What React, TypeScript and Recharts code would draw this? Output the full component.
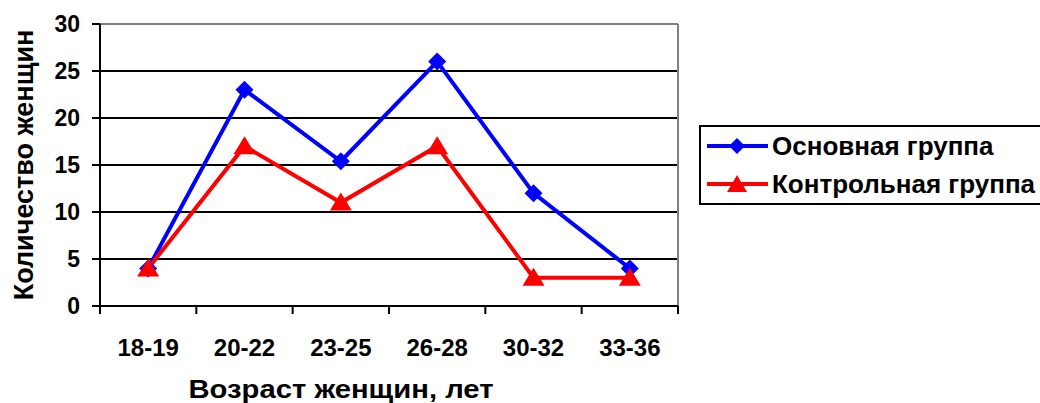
import { LineChart, Line, XAxis, YAxis, CartesianGrid, ReferenceLine, Legend } from 'recharts'

const ageGroups = ['18-19', '20-22', '23-25', '26-28', '30-32', '33-36']
const mainGroup = [4, 23, 15.4, 26, 12, 4]
const controlGroup = [4, 17, 11, 17, 3, 3]
const yTicks = [0, 5, 10, 15, 20, 25, 30]
const boundaryTicks = [0, 1, 2, 3, 4, 5, 6]

// slot = middle of each age band on the 0..6 boundary axis
const rows = ageGroups.map((g, i) => ({ age: g, slot: i + 0.5, main: mainGroup[i], control: controlGroup[i] }))

const FONT = '"Liberation Sans", Arial, sans-serif'
const BLUE = '#0000ff'
const RED = '#ff0000'

const Diamond = (p: any) => {
  const { cx, cy } = p
  if (cx == null || cy == null) return <g />
  const r = 9
  return <polygon points={`${cx},${cy - r} ${cx + r},${cy} ${cx},${cy + r} ${cx - r},${cy}`} fill={BLUE} />
}

const Triangle = (p: any) => {
  const { cx, cy } = p
  if (cx == null || cy == null) return <g />
  return <polygon points={`${cx},${cy - 10} ${cx + 11},${cy + 8} ${cx - 11},${cy + 8}`} fill={RED} />
}

const LegendBox = () => (
  <div style={{ boxSizing: 'border-box', height: 80, border: '2px solid #000', background: '#fff', padding: '0 0 0 6px', fontFamily: FONT, fontWeight: 'bold', fontSize: 26 }}>
    {[{ name: 'Основная группа', color: BLUE, d: true }, { name: 'Контрольная группа', color: RED, d: false }].map((it) => (
      <div key={it.name} style={{ display: 'flex', alignItems: 'center', height: 38, whiteSpace: 'nowrap' }}>
        <svg width={62} height={24} style={{ marginRight: 3, flex: 'none' }}>
          <line x1={0} y1={12} x2={61} y2={12} stroke={it.color} strokeWidth={4} />
          {it.d
            ? <polygon points="30,4 38,12 30,20 22,12" fill={it.color} />
            : <polygon points="30,3 40,20 20,20" fill={it.color} />}
        </svg>
        <span>{it.name}</span>
      </div>
    ))}
  </div>
)

export default function App() {
  return (
    <div style={{ position: 'absolute', left: 0, top: 0, background: '#fff' }}>
      <LineChart width={1040} height={403} data={rows} margin={{ top: 24, right: 362, bottom: 0, left: 0 }}>
        <CartesianGrid vertical={false} horizontal stroke="#000" strokeWidth={2} />
        {/* ids sort alphabetically: "a" sits right under the plot, "b" below it */}
        <XAxis xAxisId="a" type="number" dataKey="slot" domain={[0, 6]} allowDataOverflow ticks={boundaryTicks} height={1}
          tick={() => <g />} tickSize={8} tickLine={{ stroke: '#000', strokeWidth: 2 }}
          axisLine={{ stroke: '#000', strokeWidth: 2 }} />
        <XAxis xAxisId="b" dataKey="age" scale="band" height={96} tickSize={0} tickLine={false} axisLine={false}
          tickMargin={32} interval={0}
          tick={{ fill: '#000', fontSize: 24, fontWeight: 'bold', fontFamily: FONT }}
          label={{
            content: () => (
              <text x={341} y={398} textAnchor="middle" fill="#000" fontSize={26} fontWeight="bold" fontFamily={FONT}
                textLength={305} lengthAdjust="spacingAndGlyphs">
                Возраст женщин, лет
              </text>
            ),
          }} />
        <YAxis width={100} domain={[0, 30]} ticks={yTicks} interval={0} tickSize={8} tickMargin={12}
          tickLine={{ stroke: '#000', strokeWidth: 2 }} axisLine={{ stroke: '#000', strokeWidth: 2 }}
          tick={{ fill: '#000', fontSize: 23, fontWeight: 'bold', fontFamily: FONT }}
          label={{
            content: () => (
              <text x={0} y={0} transform="translate(33,165) rotate(-90)" textAnchor="middle" fill="#000"
                fontSize={27} fontWeight="bold" fontFamily={FONT}>
                Количество женщин
              </text>
            ),
          }} />
        <ReferenceLine xAxisId="a" y={30} stroke="#808080" strokeWidth={2} />
        <ReferenceLine xAxisId="a" x={6} stroke="#808080" strokeWidth={2} />
        <Line xAxisId="b" dataKey="main" name="Основная группа" stroke={BLUE} strokeWidth={4}
          dot={<Diamond />} activeDot={false} isAnimationActive={false} />
        <Line xAxisId="b" dataKey="control" name="Контрольная группа" stroke={RED} strokeWidth={4}
          dot={<Triangle />} activeDot={false} isAnimationActive={false} />
        <Legend layout="horizontal" verticalAlign="middle" align="center" content={() => <LegendBox />}
          wrapperStyle={{ left: 699, top: 125, width: 345, height: 80 }} />
      </LineChart>
    </div>
  )
}
